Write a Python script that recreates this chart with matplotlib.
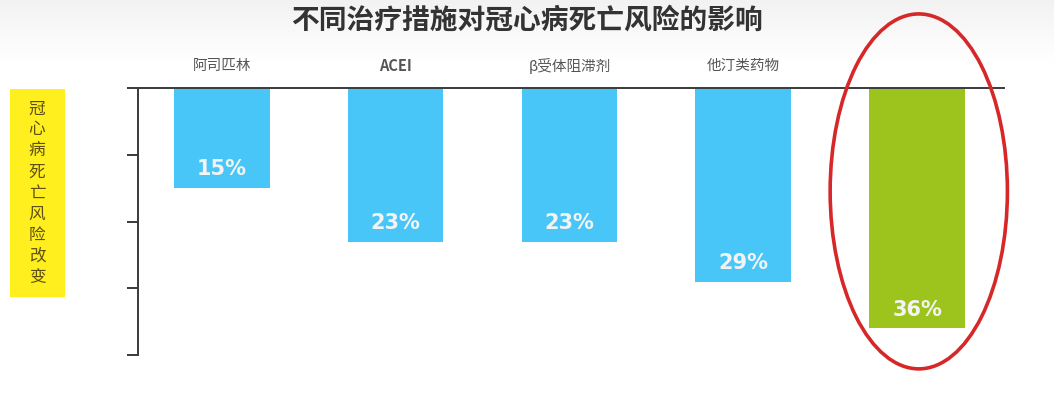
import matplotlib
matplotlib.use("Agg")
import matplotlib.pyplot as plt
import numpy as np
from matplotlib.patches import Ellipse, Rectangle

plt.rcParams['font.family'] = ['Noto Sans CJK SC', 'DejaVu Sans']

title = '不同治疗措施对冠心病死亡风险的影响'
categories = ['阿司匹林', 'ACEI', 'β受体阻滞剂', '他汀类药物', '']
reductions = [15, 23, 23, 29, 36]
value_labels = ['15%', '23%', '23%', '29%', '36%']
ylabel = '冠心病死亡风险改变'
yticks = [0, -10, -20, -30, -40]

blue = '#48c6f7'
green = '#9dc41c'
colors = [blue, blue, blue, blue, green]

fig = plt.figure(figsize=(10.54, 4.17), dpi=100)

# subtle background gradient at the top
bg = fig.add_axes([0, 0, 1, 1], zorder=-10)
grad = np.linspace(0, 1, 200).reshape(-1, 1)
col = np.clip(0.95 + 0.05 * np.minimum(1, grad * 7), 0, 1)
bg.imshow(np.dstack([col, col, col]), aspect='auto', extent=[0, 1, 0, 1], origin='upper')
bg.axis('off')

ax = fig.add_axes([0.1309, 0.1487, 0.8216, 0.640])
ax.patch.set_alpha(0)
x = np.arange(len(categories))
vals = [-v for v in reductions]
bars = ax.bar(x, vals, width=0.55, color=colors, zorder=2)

ax.set_xlim(-0.483, 4.50)
ax.set_ylim(-40, 0)
ax.set_yticks(yticks)
ax.set_yticklabels([])
ax.set_xticks([])
for s in ['right', 'bottom']:
    ax.spines[s].set_visible(False)
ax.spines['top'].set_color('#3a3a3a')
ax.spines['left'].set_color('#3a3a3a')
ax.spines['top'].set_linewidth(1.4)
ax.spines['left'].set_linewidth(1.4)
ax.tick_params(axis='y', length=8, width=1.4, color='#3a3a3a')

for xi, v, lab, cat in zip(x, vals, value_labels, categories):
    ax.annotate(lab, (xi, v), xytext=(0, 13.5), textcoords='offset points',
                ha='center', va='center', color='#f3f3f3', fontsize=15,
                fontweight='bold', family='DejaVu Sans', zorder=3)
    if cat:
        ax.annotate(cat, (xi, 0), xytext=(0, 16), textcoords='offset points',
                    ha='center', va='center', color='#555555', fontsize=10.5,
                    fontweight='bold' if cat == 'ACEI' else 'normal')

# highlight ellipse around the last bar
hx = x[-1]
ell = Ellipse((hx + 0.01, vals[-1] * 0.43), width=1.02, height=53.2, fill=False,
              edgecolor='#d62828', linewidth=2.6, clip_on=False, zorder=4)
ax.add_patch(ell)

fig.text(0.5, 0.950, title, ha='center', va='center', fontsize=20,
         fontweight='bold', color='#333333')

# y label in yellow box
fig.patches.append(Rectangle((10 / 1054, 1 - 297 / 417), 55 / 1054, 208 / 417,
                             transform=fig.transFigure, facecolor='#ffef1f',
                             edgecolor='none', zorder=1))
fig.text(37 / 1054, 1 - 193 / 417, '\n'.join(ylabel), ha='center', va='center',
         fontsize=12, color='#5e5010', linespacing=1.31, fontweight='medium',
         zorder=2)

fig.savefig('out.png', dpi=100)
